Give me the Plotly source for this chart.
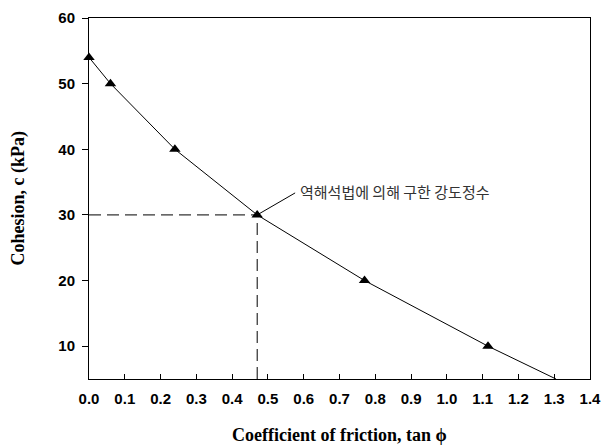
import plotly.graph_objects as go

# Data
tan_phi = [0.0, 0.06, 0.24, 0.47, 0.77, 1.115]
cohesion = [54, 50, 40, 30, 20, 10]
line_x = [0.0, 0.06, 0.24, 0.47, 0.77, 1.115, 1.305]
line_y = [54, 50, 40, 30, 20, 10, 5]
guide_point = (0.47, 30)
x_ticks = [0.0, 0.1, 0.2, 0.3, 0.4, 0.5, 0.6, 0.7, 0.8, 0.9, 1.0, 1.1, 1.2, 1.3, 1.4]
y_ticks = [10, 20, 30, 40, 50, 60]
note_text = "역해석법에 의해 구한 강도정수"
x_range = [0, 1.4]
y_range = [5, 60]

fig = go.Figure()

# dashed guide lines
fig.add_trace(go.Scatter(
    x=[x_range[0], guide_point[0]], y=[guide_point[1], guide_point[1]],
    mode="lines", line=dict(color="black", width=1, dash="12px,6px"),
    hoverinfo="skip", showlegend=False))
fig.add_trace(go.Scatter(
    x=[guide_point[0], guide_point[0]], y=[y_range[0], guide_point[1]],
    mode="lines", line=dict(color="black", width=1, dash="12px,6px"),
    hoverinfo="skip", showlegend=False))

# curve
fig.add_trace(go.Scatter(
    x=line_x, y=line_y, mode="lines",
    line=dict(color="black", width=1), showlegend=False))
fig.add_trace(go.Scatter(
    x=tan_phi, y=cohesion, mode="markers",
    marker=dict(symbol="triangle-up", size=10, color="black"),
    showlegend=False, cliponaxis=False))

# leader line for note
fig.add_trace(go.Scatter(
    x=[guide_point[0], guide_point[0] + 0.106], y=[guide_point[1], guide_point[1] + 3.35],
    mode="lines", line=dict(color="black", width=1), showlegend=False, hoverinfo="skip"))

fig.add_annotation(
    x=guide_point[0] + 0.113, y=guide_point[1] + 3.6, xref="x", yref="y",
    text=note_text, showarrow=False, xanchor="left", yanchor="middle",
    font=dict(family="Noto Sans CJK KR", size=15, color="#333333"))

title_font = dict(family="Liberation Serif", size=18, color="black")
fig.add_annotation(
    x=0, y=0.5, xref="paper", yref="paper", xshift=-71,
    text="<b>Cohesion, c (kPa)</b>", textangle=-90, showarrow=False,
    xanchor="center", yanchor="middle", font=title_font)
fig.add_annotation(
    x=0.5, y=0, xref="paper", yref="paper", yshift=-56,
    text="<b>Coefficient of friction, tan ϕ</b>", showarrow=False,
    xanchor="center", yanchor="middle", font=title_font)

tick_font = dict(family="Liberation Sans", size=15, color="black")
fig.update_xaxes(
    range=x_range, tickvals=x_ticks, ticktext=[f"<b>{v:.1f}</b>" for v in x_ticks],
    ticks="inside", ticklen=5, tickcolor="black", tickwidth=1,
    showline=True, linecolor="black", linewidth=1, mirror=True,
    showgrid=False, zeroline=False, tickfont=tick_font,
    automargin=False, ticklabelstandoff=6)
fig.update_yaxes(
    range=y_range, tickvals=y_ticks, ticktext=[f"<b>{v}</b>" for v in y_ticks],
    ticks="outside", ticklen=6, tickcolor="black", tickwidth=1,
    showline=True, linecolor="black", linewidth=1, mirror=True,
    showgrid=False, zeroline=False, tickfont=tick_font,
    automargin=False, ticklabelstandoff=4)

fig.update_layout(
    width=602, height=448,
    margin=dict(l=89, r=12, t=18, b=69, autoexpand=False),
    plot_bgcolor="white", paper_bgcolor="white",
    showlegend=False)

fig.write_html("out.html", config={"displayModeBar": False},
               post_script="document.body.style.margin='0';")
